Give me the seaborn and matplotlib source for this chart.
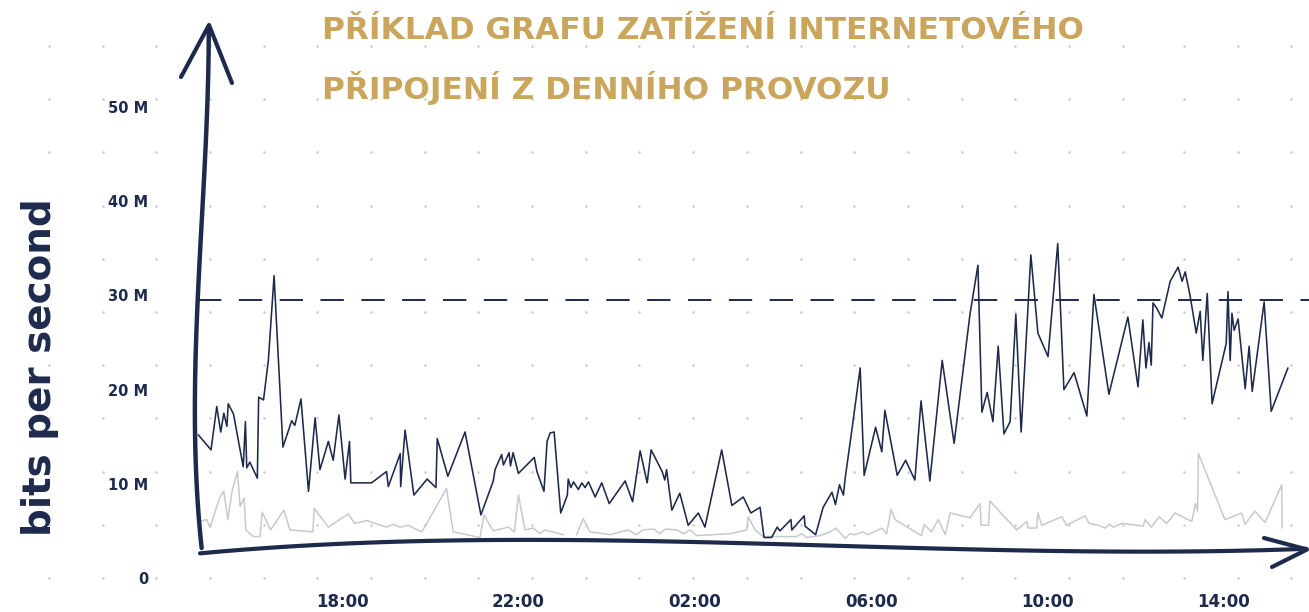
import numpy as np
import pandas as pd
import matplotlib
matplotlib.use("Agg")
import matplotlib.pyplot as plt
import seaborn as sns

# ---------------- data ----------------
title_lines = ["PŘÍKLAD GRAFU ZATÍŽENÍ INTERNETOVÉHO", "PŘIPOJENÍ Z DENNÍHO PROVOZU"]
y_label = "bits per second"
y_ticks = [0, 10, 20, 30, 40, 50]                      # Mbit/s
y_tick_labels = ["0", "10 M", "20 M", "30 M", "40 M", "50 M"]
x_ticks = [4, 8, 12, 16, 20, 24]                       # hours after 14:00 (day 1)
x_tick_labels = ["18:00", "22:00", "02:00", "06:00", "10:00", "14:00"]
threshold = 29.5                                       # Mbit/s (dashed line)

main_hours = [0.74, 1.03, 1.16, 1.25, 1.32, 1.39, 1.42, 1.54, 1.76, 1.81,
              1.84, 1.91, 2.08, 2.11, 2.22, 2.33, 2.46, 2.66, 2.86, 2.93,
              3.07, 3.24, 3.39, 3.50, 3.69, 3.80, 3.93, 4.07, 4.17, 4.20,
              4.67, 5.01, 5.05, 5.32, 5.33, 5.43, 5.63, 5.93, 6.13, 6.16,
              6.40, 6.79, 7.15, 7.43, 7.47, 7.62, 7.66, 7.79, 7.82, 7.88,
              8.00, 8.36, 8.42, 8.58, 8.65, 8.72, 8.81, 8.96, 9.11, 9.13,
              9.19, 9.25, 9.36, 9.44, 9.51, 9.59, 9.74, 9.89, 10.06, 10.42,
              10.59, 10.76, 10.92, 11.01, 11.26, 11.32, 11.36, 11.48, 11.66, 11.85,
              12.08, 12.23, 12.61, 12.84, 13.10, 13.27, 13.48, 13.57, 13.74, 13.87,
              13.93, 14.18, 14.20, 14.48, 14.50, 14.74, 14.91, 15.11, 15.19, 15.28,
              15.37, 15.41, 15.57, 15.75, 15.84, 16.10, 16.24, 16.31, 16.59, 16.78,
              16.99, 17.13, 17.33, 17.61, 17.88, 18.24, 18.42, 18.51, 18.63, 18.76,
              18.88, 19.01, 19.15, 19.28, 19.40, 19.62, 19.78, 20.01, 20.23, 20.37,
              20.60, 20.89, 21.05, 21.39, 21.82, 22.05, 22.16, 22.23, 22.30, 22.35,
              22.39, 22.48, 22.59, 22.78, 22.96, 23.05, 23.12, 23.23, 23.37, 23.46,
              23.52, 23.62, 23.73, 24.05, 24.09, 24.14, 24.18, 24.23, 24.32, 24.48,
              24.57, 24.64, 24.91, 25.07, 25.45]
main_values = [15.2, 13.6, 18.2, 15.5, 17.5, 16.1, 18.5, 17.4, 11.8, 16.6,
               11.7, 12.3, 10.6, 19.2, 18.9, 23.1, 32.1, 13.9, 16.7, 16.2,
               19.0, 9.2, 17.0, 11.5, 14.5, 12.5, 17.3, 10.5, 14.5, 10.1,
               10.1, 11.3, 9.7, 13.2, 9.7, 15.7, 8.8, 10.5, 9.6, 14.8,
               10.8, 15.5, 6.7, 10.3, 11.5, 13.1, 12.0, 13.3, 11.9, 13.3,
               11.1, 12.8, 11.3, 9.2, 14.5, 15.4, 15.5, 6.9, 8.8, 10.5,
               9.6, 10.2, 9.4, 10.1, 9.6, 10.2, 8.6, 10.1, 7.9, 10.3,
               8.1, 13.5, 10.1, 13.6, 11.3, 10.4, 11.5, 7.2, 9.0, 5.6,
               6.9, 5.4, 13.6, 7.7, 8.6, 6.9, 7.5, 4.3, 4.3, 5.4,
               5.0, 6.2, 5.1, 6.6, 5.5, 4.6, 7.5, 9.1, 7.8, 9.9,
               8.8, 10.6, 16.0, 22.3, 10.9, 16.0, 13.4, 17.8, 10.9, 12.5,
               10.4, 18.8, 10.3, 23.1, 14.3, 28.0, 33.2, 17.6, 19.7, 16.6,
               24.6, 15.3, 16.6, 28.0, 15.5, 34.3, 26.0, 23.5, 35.5, 20.0,
               21.8, 17.2, 30.1, 19.5, 27.7, 20.3, 27.4, 22.3, 25.0, 22.6,
               29.2, 28.6, 27.6, 31.5, 33.0, 31.5, 32.5, 30.0, 26.0, 28.3,
               23.1, 30.2, 18.5, 24.9, 30.4, 23.1, 28.1, 26.3, 27.5, 20.1,
               24.6, 19.8, 29.3, 17.7, 22.3]

bg_hours = [0.78, 0.93, 1.01, 1.23, 1.32, 1.41, 1.51, 1.63, 1.69, 1.78,
            1.82, 1.99, 2.14, 2.19, 2.38, 2.68, 2.82, 3.34, 3.37, 3.69,
            4.14, 4.29, 4.56, 5.01, 5.16, 5.32, 5.50, 5.62, 5.81, 6.37,
            6.52, 7.13, 7.22, 7.43, 7.77, 7.91, 8.00, 8.15, 8.34, 8.49,
            8.60, 9.02, 9.15, 9.32, 9.47, 9.62, 10.08, 10.49, 10.68, 10.83,
            11.06, 11.21, 11.33, 11.59, 11.74, 11.89, 12.04, 12.80, 13.18, 13.21,
            13.37, 13.55, 14.31, 14.42, 14.54, 14.84, 15.07, 15.20, 15.41, 15.52,
            15.63, 15.81, 15.93, 16.24, 16.35, 16.45, 16.54, 17.14, 17.20, 17.37,
            17.52, 17.68, 17.79, 18.24, 18.47, 18.49, 18.66, 18.69, 18.92, 19.30,
            19.53, 19.56, 19.75, 19.78, 19.87, 20.32, 20.43, 20.85, 20.94, 21.15,
            21.30, 21.40, 21.49, 21.68, 22.17, 22.21, 22.35, 22.53, 22.70, 22.89,
            23.27, 23.35, 23.40, 23.42, 24.02, 24.40, 24.48, 24.70, 24.93, 25.31,
            25.32]
bg_values = [6.0, 6.2, 5.4, 8.6, 9.2, 6.2, 9.3, 11.3, 7.6, 8.5,
             5.1, 4.4, 4.4, 7.0, 5.1, 7.2, 5.1, 4.9, 7.4, 5.4,
             6.8, 5.8, 6.1, 5.4, 5.7, 5.4, 5.6, 5.3, 4.9, 9.5,
             4.9, 4.3, 6.7, 5.0, 5.4, 4.9, 8.8, 5.1, 5.3, 4.7,
             5.1, 4.6, np.nan, 4.6, 6.3, 4.9, 4.6, 5.1, 4.6, 5.1,
             5.2, 4.7, 5.2, 5.1, 4.7, 5.1, 4.5, 4.7, 5.1, 6.5,
             5.1, 4.4, 4.4, 4.7, 4.3, 4.5, 4.9, 5.3, 4.2, 4.7,
             4.6, 4.9, 4.6, 5.3, 4.7, 7.3, 6.2, 4.5, 5.7, 4.9,
             6.2, 4.6, 6.9, 6.4, 7.9, 5.6, 5.6, 8.2, 7.0, 5.1,
             6.0, 5.3, 5.3, 6.9, 5.6, 6.5, 5.6, 6.6, 5.8, 5.6,
             5.3, 5.7, 5.4, 5.8, 5.5, 6.2, 5.4, 6.5, 5.8, 6.9,
             6.0, 7.9, 7.1, 13.2, 6.2, 6.9, 5.7, 7.1, 5.9, 9.9,
             5.3]

# ---------------- styling ----------------
NAVY = "#1d2a4b"
GRAY = "#c6c9d0"
GOLD = "#caa55c"
DOT = "#cdcdcd"

sns.set_theme(style="white", rc={"axes.facecolor": "none", "figure.facecolor": "white"})
plt.rcParams["font.family"] = ["DejaVu Sans"]

W, H = 1309, 612
fig = plt.figure(figsize=(W / 100, H / 100), dpi=100)

# background dot pattern (decoration, figure pixel space)
bg = fig.add_axes([0, 0, 1, 1], zorder=0)
bg.set_xlim(0, W); bg.set_ylim(H, 0); bg.axis("off")
dot_x = np.concatenate([49 + 53.68 * np.arange(21), 1184.3 + 53.35 * np.arange(3)])
dot_y = 46 + 53.2 * np.arange(11)
gx, gy = np.meshgrid(dot_x, dot_y)
bg.scatter(gx.ravel(), gy.ravel(), s=3.5, color=DOT, linewidths=0)

# main data axes
x0, x1 = 0.74, 25.5
px_per_h = 44.1
left_px = 165.6 + x0 * px_per_h
right_px = 165.6 + x1 * px_per_h
ax = fig.add_axes([left_px / W, (H - 578) / H, (right_px - left_px) / W, (578 - 107) / H], zorder=2)

df_main = pd.DataFrame({"hour": main_hours, "mbps": main_values})
bg_arr = np.array(bg_values, dtype=float)
df_bg = pd.DataFrame({"hour": bg_hours, "mbps": bg_arr,
                      "seg": np.cumsum(np.isnan(bg_arr))}).dropna()

sns.lineplot(data=df_bg, x="hour", y="mbps", units="seg", estimator=None,
             color=GRAY, linewidth=1.1, ax=ax, clip_on=False)
sns.lineplot(data=df_main, x="hour", y="mbps", estimator=None,
             color=NAVY, linewidth=1.15, ax=ax, clip_on=False)

ax.axhline(threshold, xmin=0, xmax=(W - left_px) / (right_px - left_px),
           color=NAVY, linewidth=1.4, dashes=(12, 9), clip_on=False)

ax.set_xlim(x0, x1)
ax.set_ylim(0, 50)
ax.set_yticks(y_ticks)
ax.set_yticklabels(y_tick_labels)
ax.set_xticks(x_ticks)
ax.set_xticklabels(x_tick_labels)
ax.tick_params(axis="y", length=0, pad=36, labelsize=10.5, labelcolor=NAVY)
ax.tick_params(axis="x", length=0, pad=11, labelsize=12, labelcolor=NAVY)
for lab in ax.get_xticklabels() + ax.get_yticklabels():
    lab.set_fontweight("bold")
ax.set_xlabel(""); ax.set_ylabel("")
for s in ax.spines.values():
    s.set_visible(False)
ax.grid(False)

# hand-drawn axis arrows (decoration, figure pixel space)
fg = fig.add_axes([0, 0, 1, 1], zorder=3)
fg.set_xlim(0, W); fg.set_ylim(H, 0); fg.axis("off")
fg.patch.set_alpha(0)

yy = np.linspace(548, 27, 60)
cy = np.polyfit([548, 500, 430, 300, 200, 100, 27], [202, 197, 195, 198, 203, 207, 209], 3)
fg.plot(np.polyval(cy, yy), yy, color=NAVY, lw=3.2, solid_capstyle="round")
fg.plot([181, 209, 232], [77, 25, 83], color=NAVY, lw=3.0, solid_capstyle="round",
        solid_joinstyle="round")

xx = np.linspace(200, 1306, 80)
cx = np.polyfit([200, 300, 450, 640, 880, 1060, 1306], [554, 545, 540, 542, 547, 550.5, 549], 3)
fg.plot(xx, np.polyval(cx, xx), color=NAVY, lw=3.0, solid_capstyle="round")
fg.plot([1264, 1307, 1272], [538, 549.5, 567], color=NAVY, lw=3.0, solid_capstyle="round",
        solid_joinstyle="round")

# texts
fig.text(322 / W, 1 - 39 / H, title_lines[0], color=GOLD, fontsize=22.5, fontweight="bold",
         ha="left", va="baseline")
fig.text(322 / W, 1 - 99 / H, title_lines[1], color=GOLD, fontsize=22.5, fontweight="bold",
         ha="left", va="baseline")
fig.text(40 / W, 1 - 367 / H, y_label, color=NAVY, fontsize=28, fontweight="bold",
         rotation=90, ha="center", va="center")

fig.savefig("out.png", dpi=100)
